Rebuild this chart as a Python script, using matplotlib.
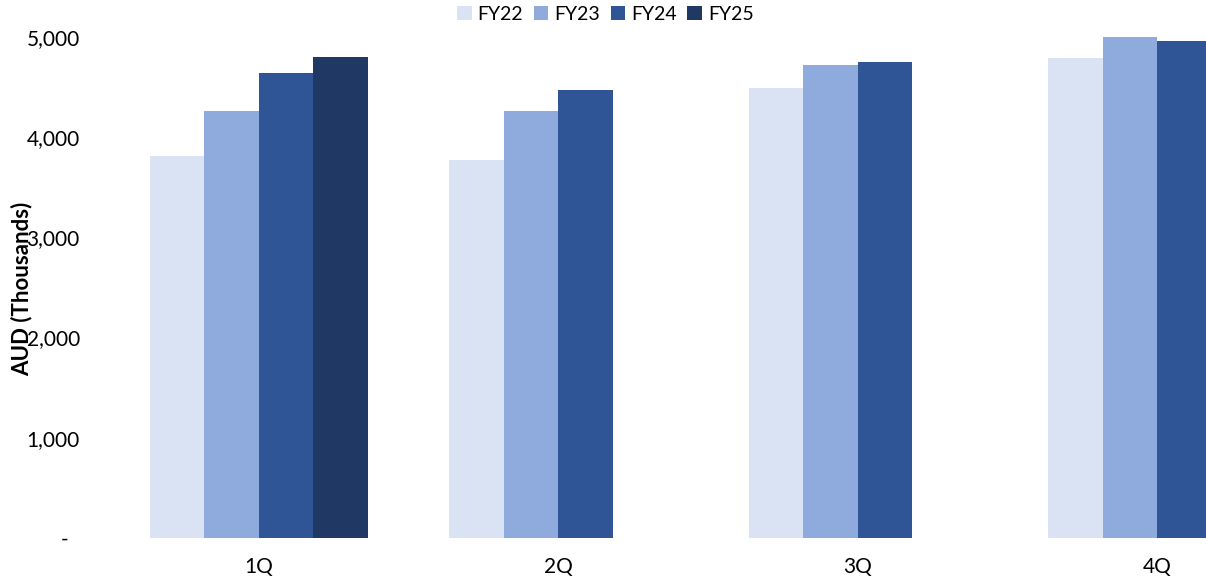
import matplotlib
matplotlib.use("Agg")
import matplotlib.pyplot as plt
import numpy as np

plt.rcParams['font.family'] = ['Lato', 'DejaVu Sans']

quarters = ['1Q', '2Q', '3Q', '4Q']
years = ['FY22', 'FY23', 'FY24', 'FY25']
fy22 = [3812, 3772, 4488, 4790]
fy23 = [4261, 4261, 4721, 4999]
fy24 = [4641, 4471, 4748, 4963]
fy25 = [4800, None, None, None]
colors = ['#DAE3F3', '#8FAADC', '#2F5597', '#203864']

series = [fy22, fy23, fy24, fy25]

fig = plt.figure(figsize=(12.06, 5.84), dpi=100)
# plot area runs past the right edge, like the exported chart
ax = fig.add_axes([0.0904, 0.0788, 0.9934, 0.8579])

x = np.arange(len(quarters))
width = 0.182
for i, (name, vals, c) in enumerate(zip(years, series, colors)):
    xs = np.array([xx for xx, v in zip(x, vals) if v is not None], dtype=float)
    hs = [v for v in vals if v is not None]
    ax.bar(xs + (i - 1.5) * width, hs, width, color=c, label=name,
           linewidth=0, clip_on=False)

ax.set_xlim(-0.5, len(quarters) - 0.5)
ax.set_ylim(0, 5000)
ax.set_yticks([0, 1000, 2000, 3000, 4000, 5000])
ax.set_yticklabels(['-  ', '1,000', '2,000', '3,000', '4,000', '5,000'])
ax.set_xticks(x)
ax.set_xticklabels(quarters)
ax.tick_params(axis='y', length=0, pad=21, labelsize=15, colors='#000000')
ax.tick_params(axis='x', length=0, pad=14, labelsize=15, colors='#000000')
for s in ax.spines.values():
    s.set_visible(False)

fig.text(0.0178, 0.505, 'AUD (Thousands)', rotation=90, ha='center', va='center',
         fontsize=16, fontweight='bold')

fig.legend(loc='center', bbox_to_anchor=(0.502, 0.975), ncol=4, frameon=False,
           fontsize=14, handlelength=0.75, handleheight=0.75, handletextpad=0.3,
           columnspacing=0.55, borderaxespad=0)

fig.savefig('out.png', dpi=100)
